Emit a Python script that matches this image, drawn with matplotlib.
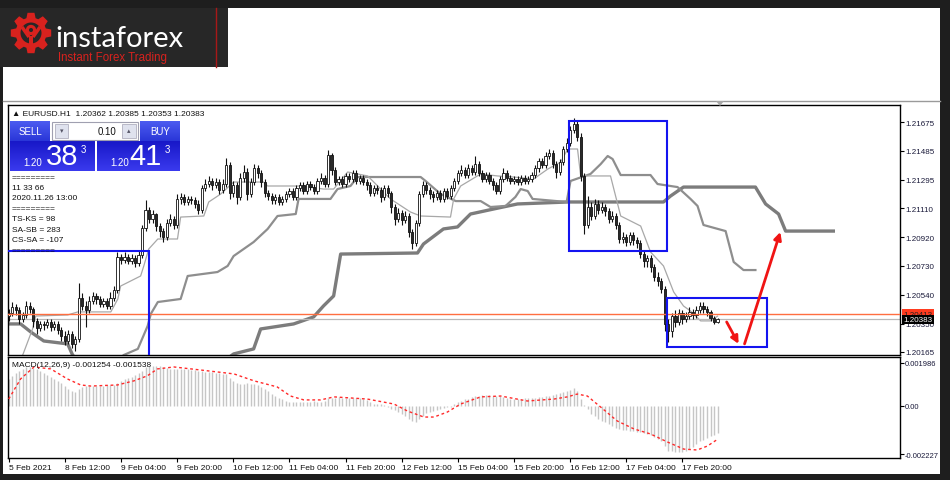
import numpy as np
import matplotlib.pyplot as plt
from matplotlib.patches import Rectangle, Polygon, Circle, FancyArrowPatch
from matplotlib.colors import LinearSegmentedColormap

plt.rcParams['font.family'] = ['Liberation Sans', 'DejaVu Sans']

# EURUSD H1, values are pips above 1.20000
BASE = 1.20
first_open = 40
close = [
    42, 46, 44, 38, 41, 47, 45, 37, 32, 35,
    34, 36, 33, 35, 31, 27, 24, 28, 22, 25,
    52, 47, 44, 50, 53, 51, 48, 50, 47, 52,
    57, 79, 77, 79, 76, 78, 75, 80, 98, 110,
    104, 107, 99, 96, 92, 101, 104, 100, 117, 118,
    115, 117, 116, 114, 110, 124, 127, 129, 126, 128,
    123, 127, 139, 121, 126, 118, 131, 135, 120, 128,
    137, 134, 128, 121, 119, 116, 118, 115, 117, 120,
    122, 118, 124, 126, 122, 127, 125, 122, 129, 131,
    127, 146, 136, 128, 130, 127, 132, 130, 134, 129,
    131, 128, 126, 121, 124, 123, 118, 124, 121, 112,
    104, 108, 103, 106, 95, 88, 101, 120, 126, 123,
    120, 118, 121, 117, 122, 119, 124, 129, 134, 136,
    133, 137, 135, 140, 134, 130, 133, 129, 126, 122,
    130, 134, 131, 129, 130, 128, 131, 129, 130, 133,
    137, 142, 139, 145, 147, 140, 135, 141, 150, 154,
    162, 166, 158, 132, 100, 112, 106, 114, 110, 112,
    109, 104, 106, 100, 91, 92, 89, 93, 90, 88,
    81, 76, 78, 72, 66, 63, 58, 35, 30, 40,
    36, 42, 38, 40, 43, 41, 44, 47, 45, 43,
    39, 36.2, 38.3]
high = [
    45, 49, 48, 46, 43, 50, 49, 46, 39, 37,
    37, 38, 38, 37, 37, 33, 30, 31, 30, 27,
    62, 55, 50, 53, 56, 55, 53, 52, 52, 56,
    60, 82, 81, 82, 81, 81, 80, 83, 100, 116,
    112, 110, 108, 101, 98, 104, 107, 106, 120, 121,
    120, 119, 119, 118, 116, 126, 130, 132, 131, 131,
    130, 130, 144, 141, 129, 128, 134, 139, 137, 131,
    140, 139, 136, 130, 123, 121, 120, 120, 119, 122,
    124, 124, 126, 128, 128, 129, 129, 127, 131, 134,
    133, 149, 147, 138, 132, 132, 134, 134, 136, 136,
    133, 133, 130, 128, 126, 126, 125, 126, 126, 122,
    114, 111, 110, 109, 108, 97, 103, 122, 129, 128,
    125, 122, 123, 123, 124, 124, 126, 131, 136, 139,
    138, 140, 139, 145, 142, 136, 135, 135, 131, 128,
    132, 137, 136, 133, 132, 132, 133, 133, 132, 135,
    139, 144, 144, 148, 150, 149, 142, 143, 152, 157,
    165, 170, 168, 160, 134, 119, 115, 117, 116, 115,
    114, 111, 109, 108, 102, 95, 94, 95, 95, 92,
    90, 83, 80, 80, 74, 69, 65, 60, 38, 42,
    44, 45, 44, 43, 46, 45, 47, 49, 49, 47,
    44, 40, 38.5]
low = [
    37, 40, 41, 35, 36, 39, 42, 33, 28, 30,
    31, 32, 30, 31, 28, 24, 21, 22, 19, 17,
    23, 44, 33, 42, 48, 48, 46, 46, 45, 45,
    50, 55, 74, 75, 74, 74, 72, 73, 78, 96,
    101, 101, 96, 92, 89, 90, 99, 97, 98, 114,
    113, 113, 114, 111, 107, 108, 122, 125, 123, 124,
    120, 121, 125, 117, 118, 114, 116, 128, 116, 118,
    126, 131, 125, 118, 116, 114, 114, 113, 113, 115,
    118, 116, 116, 122, 120, 120, 123, 120, 120, 127,
    125, 125, 133, 126, 126, 125, 125, 128, 128, 127,
    127, 126, 123, 119, 119, 120, 115, 116, 118, 108,
    100, 102, 100, 101, 92, 84, 86, 99, 118, 120,
    117, 115, 116, 115, 115, 117, 117, 122, 127, 132,
    131, 131, 133, 133, 132, 128, 128, 127, 123, 120,
    120, 128, 129, 127, 127, 126, 126, 127, 127, 128,
    131, 135, 137, 137, 143, 137, 131, 133, 139, 148,
    152, 160, 155, 129, 94, 98, 103, 104, 107, 108,
    106, 101, 102, 97, 88, 88, 86, 87, 87, 85,
    78, 72, 72, 69, 63, 60, 55, 30, 23, 26,
    33, 34, 35, 36, 38, 38, 39, 42, 42, 40,
    37, 35, 35.3]

# indicator lines as (bar, pips)
tenkan = [(4.0, 14.5), (6.8, 31.6), (7.7, 40.1), (16.8, 40.8), (19.7, 42.8), (29.1, 42.8),
          (31.1, 51.3), (31.9, 59.8), (37.6, 66.4), (38.5, 73.0), (39.9, 84.1), (42.5, 90.7),
          (48.1, 90.7), (49.0, 105.1), (55.6, 105.8), (57.0, 115.0), (60.4, 120.2), (64.1, 128.1),
          (72.6, 128.1), (73.8, 125.5), (83.2, 125.5), (89.7, 123.5), (92.6, 123.5), (96.6, 134.7),
          (102.3, 132.1), (104.6, 126.8), (108.8, 117.0), (114.5, 108.4), (117.4, 105.8),
          (125.9, 105.1), (126.8, 117.0), (128.8, 125.5), (134.5, 133.4), (139.3, 132.1),
          (143.9, 131.4), (149.6, 130.1), (153.6, 136.6), (157.3, 141.2), (159.3, 149.8),
          (162.1, 149.8), (163.0, 132.1), (171.5, 132.1), (174.4, 105.8), (180.1, 99.2),
          (182.9, 82.2), (186.6, 73.0), (189.5, 55.9), (192.3, 46.7), (194.3, 43.4),
          (197.2, 36.9), (200.0, 36.9), (202.0, 40.0)]
kijun_fwd = [(32.8, 14.5), (36.8, 18.5), (39.6, 33.6), (40.5, 41.5), (42.5, 49.3), (49.0, 51.3),
             (51.0, 66.4), (59.5, 69.0), (62.4, 73.0), (64.1, 79.5), (69.8, 88.7), (73.8, 97.3),
             (76.6, 105.8), (81.8, 107.1), (82.6, 117.0), (91.7, 117.0), (93.7, 123.5),
             (97.4, 125.5), (99.4, 131.4), (117.4, 131.4), (118.8, 128.8), (123.1, 120.2),
             (127.4, 115.6), (134.5, 115.6), (137.3, 111.7), (141.6, 112.4), (144.4, 118.3),
             (145.9, 123.5), (147.9, 122.2), (149.3, 117.0), (159.0, 115.0), (160.1, 128.8),
             (165.8, 133.4), (168.7, 139.9), (170.7, 145.2), (172.1, 143.2), (174.4, 132.7),
             (182.9, 132.7), (184.9, 126.8), (190.6, 124.8), (194.3, 117.0), (196.3, 112.4),
             (198.0, 99.9), (204.3, 95.9), (206.6, 75.6), (209.4, 70.3), (212.8, 70.3)]
span_b = [(0, 34.9), (3.4, 34.9), (6.3, 29.6), (10.0, 23.7), (16.8, 21.8), (18.2, 14.5),
          (21.0, 8.0), (60.0, 8.0), (64.1, 15.2), (69.8, 18.5), (71.8, 31.6), (81.2, 34.9),
          (86.9, 39.5), (89.7, 46.7), (92.6, 53.3), (94.6, 80.8), (116.5, 81.5), (118.2, 87.4),
          (123.9, 97.3), (127.9, 98.6), (131.6, 107.1), (138.2, 110.4), (145.0, 113.7),
          (159.3, 115.0), (186.6, 115.0), (188.6, 118.9), (192.3, 124.8), (212.8, 124.8),
          (215.7, 113.7), (219.4, 107.1), (221.4, 95.9), (235.0, 95.9)]

bid, ask = 1.20383, 1.20413
price_ticks = [1.20165, 1.20350, 1.20540, 1.20730, 1.20920, 1.21110, 1.21295, 1.21485, 1.21675]

# MACD(12,26,9) histogram per bar and signal line, in 1e-5
macd_hist = [
    125, 140, 150, 162, 171, 178, 180, 176, 171, 162,
    150, 144, 136, 126, 116, 104, 92, 80, 69, 65,
    80, 88, 92, 92, 92, 92, 92, 94, 96, 97,
    98, 108, 116, 124, 130, 136, 142, 152, 160, 180,
    185, 186, 185, 184, 180, 173, 171, 170, 171, 172,
    171, 170, 168, 165, 162, 160, 158, 157, 155, 152,
    150, 149, 148, 130, 116, 108, 102, 102, 104, 103,
    102, 96, 88, 80, 70, 55, 46, 38, 32, 25,
    18, 18, 18, 19, 20, 20, 20, 21, 20, 20,
    22, 35, 38, 38, 40, 39, 38, 37, 36, 35,
    36, 34, 28, 18, 9, 9, 8, 6, -4, -14,
    -20, -28, -36, -46, -58, -68, -74, -58, -46, -34,
    -28, -24, -18, -14, -10, -6, -3, 8, 18, 24,
    30, 34, 40, 46, 48, 51, 51, 50, 48, 47,
    46, 42, 38, 34, 32, 32, 33, 35, 36, 37,
    38, 40, 42, 44, 46, 50, 55, 60, 65, 69,
    76, 83, 70, 32, 4, -16, -37, -48, -60, -70,
    -76, -83, -92, -100, -106, -110, -112, -114, -115, -118,
    -122, -126, -129, -134, -142, -152, -162, -185, -208, -210,
    -211, -212, -211, -206, -199, -188, -175, -162, -155, -148,
    -139, -132, -125.4]
macd_signal = [(0, 32), (3.4, 125), (7.2, 180), (12, 171), (16.7, 125), (20.5, 97), (23.4, 92),
               (31, 97), (35.7, 116), (39.5, 139), (42.4, 171), (47.1, 180), (54.7, 166),
               (64.2, 148), (69.9, 116), (76.5, 88), (80.3, 46), (84.1, 28), (88.9, 28),
               (92.7, 42), (102.2, 32), (109.8, 9), (113.6, -23), (118.3, -51), (121.2, -51),
               (125, -28), (128.8, 9), (134.5, 42), (140.2, 46), (147.8, 23), (155.4, 32),
               (159.2, 42), (162, 55), (164.9, 46), (168.7, -5), (173.4, -69), (178.2, -106),
               (182.9, -129), (187.7, -166), (192.4, -199), (196.2, -203), (199.1, -185),
               (202, -153.8)]
macd_ticks = [0.001986, 0.0, -0.002227]
macd_labels = ['0.001986', '0.00', '-0.002227']

time_ticks = [0, 16, 32, 48, 64, 80, 96, 112, 128, 144, 160, 176, 192]
time_labels = ['5 Feb 2021', '8 Feb 12:00', '9 Feb 04:00', '9 Feb 20:00', '10 Feb 12:00',
               '11 Feb 04:00', '11 Feb 20:00', '12 Feb 12:00', '15 Feb 04:00', '15 Feb 20:00',
               '16 Feb 12:00', '17 Feb 04:00', '17 Feb 20:00']

info_lines = ['=========', '11 33 66', '2020.11.26 13:00', '=========',
              'TS-KS = 98', 'SA-SB = 283', 'CS-SA = -107', '=========']


def px(p):
    return BASE + np.asarray(p, dtype=float) / 10000.0


W, H = 950, 481
fig = plt.figure(figsize=(W / 100, H / 100), dpi=100)
fig.patch.set_facecolor('white')


def box_axes(l, t, r, b, z=1):
    return fig.add_axes([l / W, 1 - b / H, (r - l) / W, (b - t) / H], zorder=z)


# window frame
bg = fig.add_axes([0, 0, 1, 1], zorder=-2)
bg.set_xlim(0, W)
bg.set_ylim(H, 0)
bg.axis('off')
for r in [(0, 0, W, 9), (0, 0, 228, 68), (940, 0, 10, H), (0, 475, W, 6), (0, 68, 3, 413)]:
    bg.add_patch(Rectangle(r[:2], r[2], r[3], color='#1e1e1e', lw=0))
bg.add_patch(Rectangle((0, 9), 228, 59, color='#272727', lw=0))
bg.plot([216, 216], [9, 68], color='#a81818', lw=1)
bg.plot([3, 940], [102, 102], color='#9a9a9a', lw=1)

# price chart
ax = box_axes(8, 106, 900, 356)
n = len(close)
idx = np.arange(n)
c = px(close)
hi = px(high)
lo = px(low)
o = np.concatenate([[px(first_open)], c[:-1]])
up = c >= o
ax.vlines(idx, lo, hi, color='#111111', lw=0.8, zorder=3)
ax.bar(idx, np.abs(c - o), bottom=np.minimum(o, c), width=0.62,
       color=np.where(up, 'white', '#2a2a2a'), edgecolor='#111111', linewidth=0.6, zorder=4)

for pts, col, lw in [(span_b, '#7c7c7c', 2.4), (kijun_fwd, '#8e8e8e', 1.6), (tenkan, '#a8a8a8', 0.9)]:
    xs, ys = zip(*pts)
    ax.plot(xs, px(ys), color=col, lw=lw, zorder=2, solid_joinstyle='round')

ax.axhline(ask, color='#ff6e40', lw=1.0, zorder=5)
ax.axhline(bid, color='#b8b8b8', lw=0.9, zorder=2)

# annotation boxes and arrows
blue = '#1414f0'
for (x0, y0, x1, y1) in [(-2, 0, 39.9, 82.8), (159.8, 82.8, 187.7, 168.2), (187.7, 19.8, 216.0, 51.9)]:
    ax.add_patch(Rectangle((x0, px(y0)), x1 - x0, px(y1) - px(y0), fill=False, ec=blue, lw=1.5, zorder=6))
for (xa, ya, xb, yb) in [(204.6, 36.2, 208.0, 21.8), (209.7, 21.8, 219.9, 95.3)]:
    ax.add_patch(FancyArrowPatch((xa, px(ya)), (xb, px(yb)), arrowstyle='-|>', mutation_scale=11,
                                 color='#f01414', lw=2, zorder=7, shrinkA=0, shrinkB=0))

ax.set_xlim(-0.2, 254)
ax.set_ylim(1.20145, 1.21787)
ax.yaxis.tick_right()
ax.set_yticks(price_ticks)
ax.set_yticklabels(['%.5f' % t for t in price_ticks])
ax.tick_params(axis='y', direction='out', length=3, width=0.8, labelsize=5.8, pad=1, labelcolor='#1a1a3a')
ax.tick_params(axis='x', length=0, labelbottom=False)
for s in ax.spines.values():
    s.set_color('black')
    s.set_linewidth(1)

lab = dict(transform=ax.get_yaxis_transform(), ha='left', va='center', fontsize=5.8, clip_on=False)
ax.text(1.004, ask, '%.5f' % ask, color='#222222', zorder=8,
        bbox=dict(boxstyle='square,pad=0.15', fc='#ff3b1f', ec='none'), **lab)
ax.text(1.004, bid - 0.00006, '%.5f' % bid, color='white', zorder=9,
        bbox=dict(boxstyle='square,pad=0.15', fc='black', ec='none'), **lab)

# MACD panel
ax2 = box_axes(8, 358, 900, 459)
hv = np.asarray(macd_hist) * 1e-5
ax2.vlines(idx, 0, hv, color='#c6c6c6', lw=1.0, zorder=2)
sx, sy = zip(*macd_signal)
ax2.plot(sx, np.asarray(sy) * 1e-5, color='#ff2a2a', lw=1.0, ls=(0, (2, 2)), zorder=3)
ax2.set_xlim(-0.2, 254)
ax2.set_ylim(-0.0024, 0.00226)
ax2.yaxis.tick_right()
ax2.set_yticks(macd_ticks)
ax2.set_yticklabels(macd_labels)
ax2.tick_params(axis='y', direction='out', length=3, width=0.8, labelsize=5.5, pad=0.5, labelcolor='#1a1a3a')
ax2.set_xticks(time_ticks)
ax2.set_xticklabels(time_labels)
ax2.tick_params(axis='x', direction='out', length=3, width=0.8, labelsize=6, pad=1.5, labelcolor='#111111')
for t in ax2.get_xticklabels():
    t.set_ha('left')
for s in ax2.spines.values():
    s.set_color('black')
    s.set_linewidth(1)

# overlay: logo, trade panel, texts
ov = fig.add_axes([0, 0, 1, 1], zorder=10)
ov.axis('off')
ov.patch.set_visible(False)

red = '#d8221e'
cx, cy = 31, 34
pts = []
for k in range(8):
    a = k * np.pi / 4
    for da, rr in [(-0.30, 15.5), (-0.17, 20.5), (0.17, 20.5), (0.30, 15.5)]:
        pts.append((cx + rr * np.cos(a + da), cy + rr * np.sin(a + da)))
ov.add_patch(Polygon(pts, closed=True, color=red, lw=0))
ov.add_patch(Circle((cx, cy), 10.5, color='#272727', lw=0))
ov.add_patch(Circle((cx, cy - 3), 3.6, fc='#272727', ec=red, lw=2.2))
ov.add_patch(Polygon([(cx - 2.2, cy + 3), (cx + 2.2, cy + 3), (cx + 2.2, cy + 16), (cx - 2.2, cy + 16)], color=red, lw=0))
ov.plot([cx - 9, cx - 2], [cy - 6, cy + 4], color=red, lw=2.5, solid_capstyle='butt')
ov.plot([cx + 9, cx + 2], [cy - 6, cy + 4], color=red, lw=2.5, solid_capstyle='butt')
ov.text(55, 47, 'instaforex', color='white', fontsize=21, family=['Lato', 'DejaVu Sans'],
        weight='normal', ha='left', va='baseline')
ov.text(58, 61, 'Instant Forex Trading', color=red, fontsize=8.3, ha='left', va='baseline')

ov.add_patch(Polygon([(716, 102), (724, 102), (720, 107)], color='#a8a8a8', lw=0))

ov.text(12, 114, '\u25b2 EURUSD.H1  1.20362 1.20385 1.20353 1.20383', fontsize=6,
        ha='left', va='center', color='#111111')
ov.text(12, 366, 'MACD(12,26,9) -0.001254 -0.001538', fontsize=6, ha='left', va='center', color='#111111')


def grad(x0, y0, w, h, c1, c2):
    cm = LinearSegmentedColormap.from_list('g', [c1, c2])
    ov.imshow(np.linspace(0, 1, 40).reshape(-1, 1), cmap=cm, extent=(x0, x0 + w, y0 + h, y0),
              aspect='auto', zorder=1, interpolation='bilinear')


grad(10, 122, 40, 20, '#4c5cf0', '#2a36d8')
grad(140, 122, 40, 20, '#4c5cf0', '#2a36d8')
grad(10, 142, 85, 30, '#1818c8', '#3a3aee')
grad(97, 142, 83, 30, '#1818c8', '#3a3aee')
ov.add_patch(Rectangle((52, 123), 86, 18, fc='white', ec='#a0a0b0', lw=0.8, zorder=2))
ov.add_patch(Rectangle((55, 125), 13, 14, fc='#dfe2ee', ec='#b0b0c0', lw=0.6, zorder=3))
ov.add_patch(Rectangle((122, 125), 14, 14, fc='#dfe2ee', ec='#b0b0c0', lw=0.6, zorder=3))
ov.text(61.5, 132, '\u25be', fontsize=5, ha='center', va='center', color='#556', zorder=4)
ov.text(129, 132, '\u25b4', fontsize=5, ha='center', va='center', color='#556', zorder=4)
ov.text(116, 132, '0.10', fontsize=7, ha='right', va='center', color='#111111', zorder=4)
ov.text(30, 132, 'SELL', fontsize=7, ha='center', va='center', color='white', zorder=4)
ov.text(160, 132, 'BUY', fontsize=7, ha='center', va='center', color='white', zorder=4)
for x1, x2, x3, big in [(33, 62, 83, '38'), (120, 146, 167, '41')]:
    ov.text(x1, 163, '1.20', fontsize=7, ha='center', va='center', color='white', zorder=4)
    ov.text(x2, 157, big, fontsize=21, ha='center', va='center', color='white', zorder=4)
    ov.text(x3, 150, '3', fontsize=7, ha='center', va='center', color='white', zorder=4)

for i, t in enumerate(info_lines):
    ov.text(12, [179, 189, 199, 210, 220, 231, 241, 252][i], t, fontsize=6,
            ha='left', va='center', color='#111111')

ov.set_xlim(0, W)
ov.set_ylim(H, 0)

fig.savefig('out.png', dpi=100, facecolor=fig.get_facecolor())
